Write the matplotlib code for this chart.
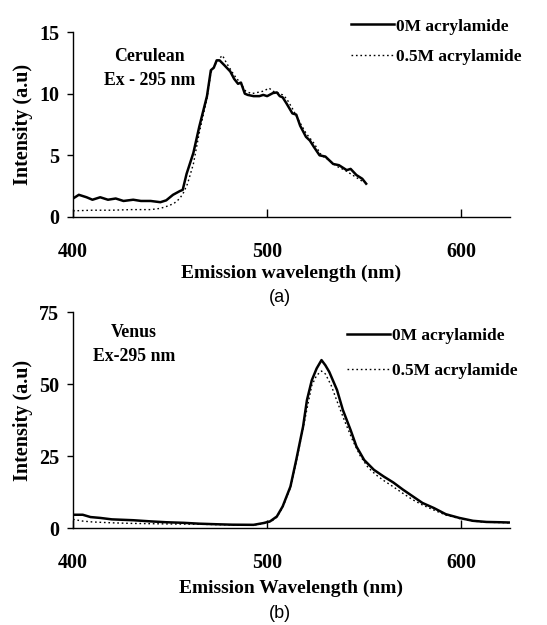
import matplotlib
matplotlib.use("Agg")
import matplotlib.pyplot as plt
from matplotlib.lines import Line2D

# ---- Data: Cerulean (panel a) ----
cer_wl_0 = [400, 403, 407, 410, 414, 418, 422, 426, 431, 435, 440, 445, 448, 451.5, 455, 456.5,
            458.5, 462, 465, 469, 471, 472.5, 474, 475.5, 478, 481, 483, 485, 486.5, 488.5, 490,
            493, 496, 498, 500, 503, 505, 506.5, 508, 510, 513, 515, 517, 520, 522, 524, 527,
            530, 534, 537, 541, 543, 546, 549, 551]
cer_i_0 = [1.5, 1.8, 1.6, 1.4, 1.6, 1.4, 1.5, 1.3, 1.4, 1.3, 1.3, 1.2, 1.35, 1.8, 2.1, 2.2,
           3.5, 5.2, 7.3, 9.8, 11.9, 12.1, 12.7, 12.7, 12.3, 11.8, 11.2, 10.8, 10.9, 10.0, 9.9,
           9.8, 9.8, 9.9, 9.8, 10.05, 10.1, 9.8, 9.7, 9.2, 8.4, 8.3, 7.4, 6.5, 6.2, 5.7, 5.0,
           4.9, 4.3, 4.2, 3.8, 3.9, 3.4, 3.1, 2.7]
cer_wl_5 = [400, 410, 420, 430, 440, 445, 449, 452, 455, 457, 459, 462, 465, 469, 471, 473,
            475, 477, 479, 481, 483, 486, 489, 492, 495, 498, 501, 503, 505, 508, 510, 513,
            516, 520, 524, 528, 532, 536, 540, 545, 549]
cer_i_5 = [0.5, 0.55, 0.55, 0.6, 0.6, 0.7, 0.9, 1.1, 1.5, 2.0, 2.7, 4.3, 6.8, 9.6, 11.7, 12.3,
           12.8, 13.1, 12.5, 12.0, 11.5, 10.9, 10.2, 10.0, 10.1, 10.2, 10.45, 10.2, 10.1, 9.9, 9.6, 8.8,
           7.9, 6.8, 6.0, 5.0, 4.6, 4.1, 3.8, 3.3, 2.9]

# ---- Data: Venus (panel b) ----
ven_wl_0 = [400, 405, 409, 414, 420, 431, 440, 448, 457, 465, 474, 482, 493, 498, 501.5, 505,
            508, 512, 515, 518.5, 520.5, 523, 525.5, 528, 530, 532, 536, 539, 543, 546, 550,
            555, 560, 565, 570, 575, 580, 586, 592, 599, 606, 613, 620, 625]
ven_i_0 = [4.6, 4.6, 3.8, 3.5, 3.0, 2.7, 2.3, 2.0, 1.8, 1.5, 1.3, 1.15, 1.1, 1.7, 2.3, 4.0,
           7.5, 14.4, 23.7, 35.2, 44.4, 51.3, 55.4, 58.3, 56.5, 54.2, 47.9, 41.0, 34.0, 28.3, 23.6,
           20.2, 17.9, 15.8, 13.3, 11.0, 8.7, 6.9, 4.8, 3.5, 2.5, 2.1, 2.0, 1.9]
ven_wl_5 = [400, 405, 410, 420, 430, 440, 450, 465, 480, 493, 498, 502, 505, 508, 512, 515,
            518.5, 521, 523, 525.5, 528, 530, 533, 536, 540, 544, 548, 552, 556, 560, 565,
            570, 575, 580, 586, 592, 599, 606, 613, 620, 625]
ven_i_5 = [3.0, 2.4, 2.1, 1.8, 1.6, 1.5, 1.4, 1.3, 1.1, 1.0, 1.5, 2.2, 3.8, 7.2, 14.0, 23.0,
           34.5, 43.0, 49.5, 53.0, 54.5, 53.5, 49.5, 44.0, 37.0, 30.5, 25.0, 21.0, 18.5, 16.5, 14.3,
           12.0, 9.8, 8.0, 6.2, 4.5, 3.3, 2.4, 2.0, 1.9, 1.8]

x_ticks = [400, 500, 600]
y_ticks_a = [0, 5, 10, 15]
y_ticks_b = [0, 25, 50, 75]

serif = ["Liberation Serif", "DejaVu Serif"]
plt.rcParams["font.family"] = serif

fig = plt.figure(figsize=(5.47, 6.25), dpi=100)

def style_axes(ax, yticks, ymax):
    ax.set_xlim(400, 625)
    ax.set_ylim(0, ymax)
    ax.set_xticks(x_ticks)
    ax.set_yticks(yticks)
    for s in ["top", "right"]:
        ax.spines[s].set_visible(False)
    for s in ["left", "bottom"]:
        ax.spines[s].set_linewidth(1.0)
    ax.tick_params(axis="x", direction="in", length=6, width=1, pad=18, labelsize=14.5)
    ax.tick_params(axis="y", direction="out", length=4, width=1, pad=6, labelsize=14.5)
    for lab in ax.get_xticklabels() + ax.get_yticklabels():
        lab.set_fontweight("bold")
    ax.set_ylabel("Intensity (a.u)", fontsize=14.5, fontweight="bold", labelpad=4)

dotted = (0, (1.2, 2.0))

# Panel (a)
ax1 = fig.add_axes([0.1335, 0.6528, 0.7985, 0.296])
ax1.plot(cer_wl_5, cer_i_5, color="black", lw=1.0, ls=dotted)
ax1.plot(cer_wl_0, cer_i_0, color="black", lw=1.8)
style_axes(ax1, y_ticks_a, 15)
ax1.set_xlabel("Emission wavelength (nm)", fontsize=14, fontweight="bold", labelpad=2)
ax1.text(0.176, 0.804, "Cerulean\nEx - 295 nm", transform=ax1.transAxes, ha="center", va="center",
         fontsize=12.8, fontweight="bold", linespacing=1.55)
handles = [Line2D([], [], color="black", lw=1.8),
           Line2D([], [], color="black", lw=1.0, ls=dotted)]
ax1.legend(handles, ["0M acrylamide", "0.5M acrylamide"], loc="upper left",
           bbox_to_anchor=(0.612, 1.13), frameon=False, handlelength=2.5, handletextpad=0.12,
           labelspacing=0.85, borderaxespad=0.2,
           prop={"family": serif, "weight": "bold", "size": 12.5})
fig.text(0.511, 0.524, "(a)", ha="center", va="center", fontsize=13,
         family=["Liberation Sans", "DejaVu Sans"])

# Panel (b)
ax2 = fig.add_axes([0.1335, 0.1552, 0.7985, 0.3456])
ax2.plot(ven_wl_5, ven_i_5, color="black", lw=1.0, ls=dotted)
ax2.plot(ven_wl_0, ven_i_0, color="black", lw=1.8)
style_axes(ax2, y_ticks_b, 75)
ax2.set_xlabel("Emission Wavelength (nm)", fontsize=14, fontweight="bold", labelpad=5)
ax2.text(0.14, 0.85, "Venus\nEx-295 nm", transform=ax2.transAxes, ha="center", va="center",
         fontsize=12.8, fontweight="bold", linespacing=1.5)
ax2.legend(handles, ["0M acrylamide", "0.5M acrylamide"], loc="upper left",
           bbox_to_anchor=(0.603, 0.975), frameon=False, handlelength=2.5, handletextpad=0.12,
           labelspacing=1.1, borderaxespad=0.2,
           prop={"family": serif, "weight": "bold", "size": 12.5})
fig.text(0.511, 0.018, "(b)", ha="center", va="center", fontsize=13,
         family=["Liberation Sans", "DejaVu Sans"])

fig.savefig("out.png", dpi=100)
